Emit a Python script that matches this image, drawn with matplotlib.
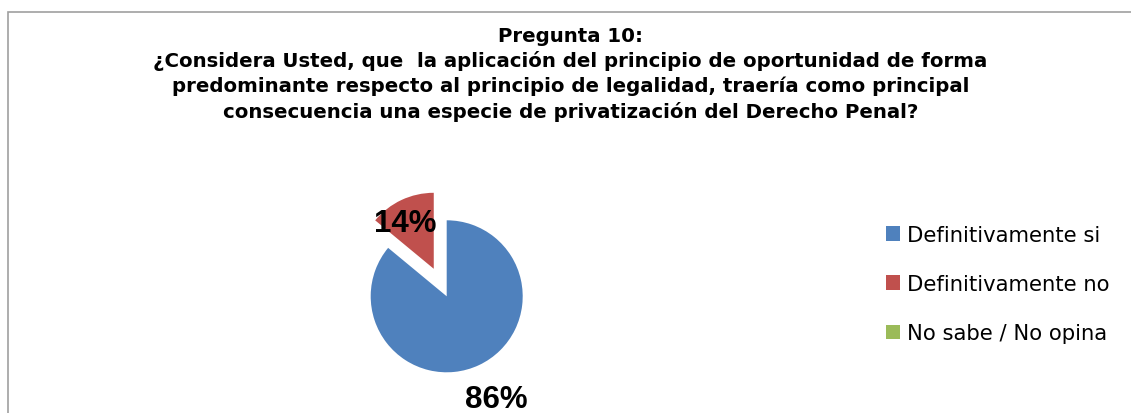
"""Pie chart: Pregunta 10 (principio de oportunidad vs legalidad)."""

import matplotlib
matplotlib.use("Agg")
import matplotlib.pyplot as plt
from matplotlib.patches import Rectangle

W_PX, H_PX = 1131, 414
DPI = 100

TITLE = ("Pregunta 10:\n"
         "¿Considera Usted, que  la aplicación del principio de oportunidad de forma\n"
         "predominante respecto al principio de legalidad, traería como principal\n"
         "consecuencia una especie de privatización del Derecho Penal?")

categories = ["Definitivamente si", "Definitivamente no", "No sabe / No opina"]
values = [86, 14, 0]
colors = ["#4F81BD", "#C0504D", "#9BBB59"]
explode = [0, 0.4, 0]

# where the data labels sit (pie radius units), per non-zero slice
label_pos = {0: (0.65, -1.35), 1: (-0.55, 0.96)}

fig = plt.figure(figsize=(W_PX / DPI, H_PX / DPI), dpi=DPI)
fig.patch.set_facecolor("white")

# chart border (only left and top visible in the crop)
fig.patches.append(Rectangle((7.5 / W_PX, -0.1), 1.2, (H_PX - 12.5) / H_PX + 0.1,
                             transform=fig.transFigure, fill=False,
                             edgecolor="#A0A0A0", linewidth=1.2))

fig.text(570.5 / W_PX, 1 - 26.5 / H_PX, TITLE, ha="center", va="top",
         multialignment="center", fontsize=14.2, fontweight="bold",
         family="DejaVu Sans", linespacing=1.35)

# pie axes: 1 data unit = 76 px, centre at (446.7, 297.3) px
cx, cy, r = 446.7, 297.3, 76
half = 2 * r
ax = fig.add_axes([(cx - half) / W_PX, (H_PX - cy - half) / H_PX,
                   2 * half / W_PX, 2 * half / H_PX])
wedges, _ = ax.pie(values, colors=colors, explode=explode, startangle=90,
                   counterclock=False, radius=1,
                   wedgeprops=dict(linewidth=0))
ax.set_xlim(-2, 2)
ax.set_ylim(-2, 2)
ax.set_aspect("auto")
ax.axis("off")

total = sum(values)
for i, v in enumerate(values):
    if v == 0:
        continue
    x, y = label_pos[i]
    ax.text(x, y, f"{round(100 * v / total)}%", ha="center", va="center",
            fontsize=22.5, fontweight="bold", family="Liberation Sans",
            clip_on=False)

leg = fig.legend(wedges, categories, loc="center left",
                 bbox_to_anchor=(886 / W_PX, 1 - 285 / H_PX),
                 frameon=False, borderpad=0, borderaxespad=0,
                 handlelength=0.67, handleheight=0.67, handletextpad=0.33,
                 labelspacing=1.38,
                 prop=dict(family="DejaVu Sans", size=15.2))

fig.savefig("out.png", dpi=DPI)
